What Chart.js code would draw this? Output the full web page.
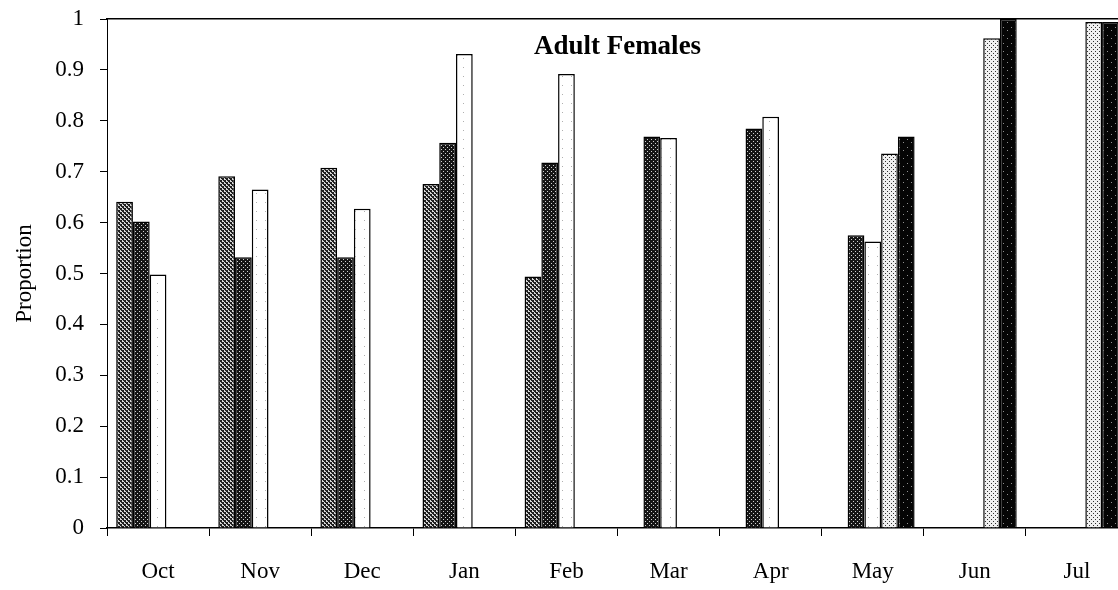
<!DOCTYPE html>
<html>
<head>
<meta charset="utf-8">
<script src="https://cdn.jsdelivr.net/npm/chart.js@4/dist/chart.umd.min.js"></script>
<style>
  html, body { margin: 0; padding: 0; background: #fff; overflow: hidden; }
  #wrap { width: 1128px; height: 590px; }
</style>
</head>
<body>
<div id="wrap"><canvas id="propChart"></canvas></div>
<script>

/* DATOS */

const months = ['Oct', 'Nov', 'Dec', 'Jan', 'Feb', 'Mar', 'Apr', 'May', 'Jun', 'Jul'];

const serieA = [0.641, 0.691, 0.708, 0.676, 0.494, null, null, null, null, null];
const serieB = [0.602, 0.532, 0.532, 0.757, 0.718, 0.769, 0.785, 0.575, null, null];
const serieC = [0.498, 0.665, 0.627, 0.931, 0.892, 0.766, 0.808, 0.563, null, null];
const serieD = [null, null, null, null, null, null, null, 0.736, 0.962, 0.994];
const serieE = [null, null, null, null, null, null, null, 0.769, 1.0, 0.994];

const yTicks = [0, 0.1, 0.2, 0.3, 0.4, 0.5, 0.6, 0.7, 0.8, 0.9, 1];

const chartTitle = 'Adult Females';

/* TRAMAS */

function trama(size, fondo, tinta, puntos){
    let c = document.createElement('canvas');
    c.width = size;
    c.height = size;
    let g = c.getContext('2d');
    g.fillStyle = fondo;
    g.fillRect(0, 0, size, size);
    g.fillStyle = tinta;
    puntos.forEach(p => g.fillRect(p[0], p[1], p[2] || 1, p[3] || 1));
    return g.createPattern(c, 'repeat');
}

const tramaA = trama(4, '#d8d8d8', '#202020', [[0, 0, 2, 2], [2, 2, 2, 2], [1, 2], [3, 0]]);
const tramaB = trama(4, '#151515', '#d0d0d0', [[1, 1], [3, 3]]);
const tramaC = trama(9, '#ffffff', '#b0b0b0', [[4, 4]]);
const tramaD = trama(4, '#f0f0f0', '#303030', [[1, 1], [3, 3]]);
const tramaE = trama(8, '#050505', '#909090', [[3, 3], [7, 6]]);

/* TITULO DENTRO DEL AREA */

const tituloInterno = {
    id: 'tituloInterno',
    afterDatasetsDraw(chart){
        const {ctx, chartArea} = chart;
        ctx.save();
        ctx.font = 'bold 27px "Liberation Serif"';
        ctx.fillStyle = '#000';
        ctx.textAlign = 'center';
        ctx.textBaseline = 'middle';
        ctx.fillText(chartTitle, (chartArea.left + chartArea.right) / 2, chartArea.top + 28);
        ctx.restore();
    }
};

function serie(data, fondo){
    return {
        data: data,
        backgroundColor: fondo,
        borderColor: '#000',
        borderWidth: 1.5,
        categoryPercentage: 0.82,
        barPercentage: 1.0
    };
}

const fuente = { family: '"Liberation Serif", "Times New Roman", serif', size: 23 };

new Chart(document.getElementById('propChart'), {
    type: 'bar',
    data: {
        labels: months,
        datasets: [
            serie(serieA, tramaA),
            serie(serieB, tramaB),
            serie(serieC, tramaC),
            serie(serieD, tramaD),
            serie(serieE, tramaE)
        ]
    },
    options: {
        responsive: true,
        maintainAspectRatio: false,
        animation: false,
        layout: { padding: { top: 19, left: 0, right: 0, bottom: 0 } },
        plugins: {
            legend: { display: false },
            tooltip: { enabled: false }
        },
        scales: {
            x: {
                afterFit: s => { s.height = 62; s.paddingLeft = 0; s.paddingRight = 0; },
                grid: { drawOnChartArea: false, color: '#000', tickLength: 8, lineWidth: 1 },
                border: { display: true, color: '#000', width: 1.5 },
                ticks: { color: '#000', font: fuente, padding: 22, maxRotation: 0 }
            },
            x2: {
                type: 'category',
                labels: months,
                position: 'top',
                afterFit: s => { s.height = 0; s.paddingLeft = 0; s.paddingRight = 0; },
                grid: { display: false },
                border: { display: true, color: '#000', width: 1.5 },
                ticks: { display: false }
            },
            y: {
                min: 0,
                max: 1,
                afterFit: s => { s.width = 107; s.paddingTop = 0; s.paddingBottom = 0; },
                afterBuildTicks: s => { s.ticks = yTicks.map(v => ({ value: v })); },
                grid: { drawOnChartArea: false, color: '#000', tickLength: 7, lineWidth: 1 },
                border: { display: true, color: '#000', width: 1 },
                ticks: {
                    color: '#000',
                    font: fuente,
                    padding: 16,
                    callback: v => String(Math.round(v * 10) / 10)
                },
                title: {
                    display: true,
                    text: 'Proportion',
                    color: '#000',
                    font: fuente,
                    padding: { top: 11, bottom: 0 }
                }
            }
        }
    },
    plugins: [tituloInterno]
});

</script>
</body>
</html>
